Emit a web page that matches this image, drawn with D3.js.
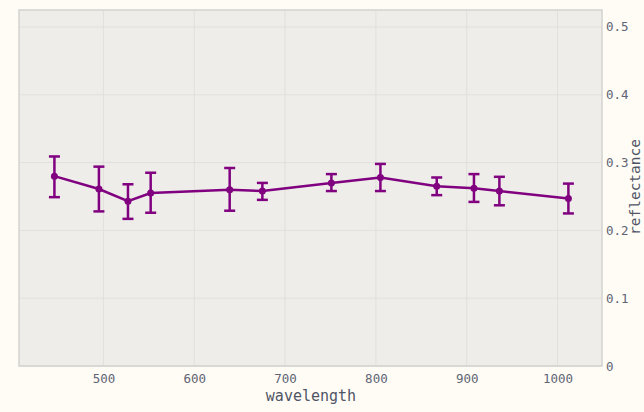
<!DOCTYPE html>
<html><head><meta charset="utf-8">
<script src="https://cdn.jsdelivr.net/npm/d3@7"></script>
<style>body{margin:0;background:#fffcf5;} svg{display:block;}</style>
</head><body>
<svg id="chart" width="644" height="412"></svg>
<script>
const wavelengths = [446, 495, 527, 552, 639, 675, 751, 805, 867, 908, 936, 1012];
const reflectance = [0.280, 0.261, 0.243, 0.255, 0.260, 0.258, 0.270, 0.278, 0.265, 0.262, 0.258, 0.247];
const errUpper = [0.309, 0.294, 0.268, 0.285, 0.292, 0.270, 0.283, 0.298, 0.278, 0.283, 0.279, 0.269];
const errLower = [0.249, 0.228, 0.217, 0.226, 0.229, 0.245, 0.258, 0.258, 0.252, 0.242, 0.237, 0.225];
const xTicks = [500, 600, 700, 800, 900, 1000];
const yTicks = [0, 0.1, 0.2, 0.3, 0.4, 0.5];
const xDomain = [407, 1049];
const yDomain = [0, 0.525];

const data = wavelengths.map((w, i) => ({w, r: reflectance[i], hi: errUpper[i], lo: errLower[i]}));
const svg = d3.select("#chart");
const m = {left: 19, right: 602, top: 10, bottom: 366};
const x = d3.scaleLinear().domain(xDomain).range([m.left, m.right]);
const y = d3.scaleLinear().domain(yDomain).range([m.bottom, m.top]);
const font = "'DejaVu Sans Mono', monospace";
const tickColor = "#5e6474";

svg.append("rect").attr("x", m.left).attr("y", m.top)
  .attr("width", m.right - m.left).attr("height", m.bottom - m.top)
  .attr("fill", "#eeede9");

// grid
svg.append("g").selectAll("line").data(xTicks).join("line")
  .attr("x1", d => x(d)).attr("x2", d => x(d)).attr("y1", m.top).attr("y2", m.bottom)
  .attr("stroke", "#e1e0dc").attr("stroke-width", 1);
svg.append("g").selectAll("line").data(yTicks).join("line")
  .attr("x1", m.left).attr("x2", m.right).attr("y1", d => y(d)).attr("y2", d => y(d))
  .attr("stroke", "#e1e0dc").attr("stroke-width", 1);

// axes
const xAxis = svg.append("g").attr("transform", `translate(0,${m.bottom})`)
  .call(d3.axisBottom(x).tickValues(xTicks).tickSize(0).tickPadding(8).tickFormat(d3.format("d")));
const yAxis = svg.append("g").attr("transform", `translate(${m.right},0)`)
  .call(d3.axisRight(y).tickValues(yTicks).tickSize(0).tickPadding(4).tickFormat(d => d === 0 ? "0" : d3.format(".1f")(d)));
[xAxis, yAxis].forEach(g => {
  g.select(".domain").remove();
  g.selectAll("text").attr("font-family", font).attr("font-size", 12.5).attr("fill", tickColor);
});
xAxis.selectAll("text").attr("dy", "0.71em");

// frame
svg.append("rect").attr("x", m.left).attr("y", m.top)
  .attr("width", m.right - m.left).attr("height", m.bottom - m.top)
  .attr("fill", "none").attr("stroke", "#d3d2cf").attr("stroke-width", 1.5);

// titles
svg.append("text").attr("x", (m.left + m.right) / 2 + 0.5).attr("y", 400.5)
  .attr("text-anchor", "middle").attr("font-family", font).attr("font-size", 15)
  .attr("fill", "#4f5566").text("wavelength");
svg.append("text").attr("transform", `translate(640,${(m.top + m.bottom) / 2 - 1}) rotate(-90)`)
  .attr("text-anchor", "middle").attr("font-family", font).attr("font-size", 14.5)
  .attr("fill", "#4f5566").text("reflectance");

const purple = "#800080";
// error bars
const eb = svg.append("g").attr("stroke", purple).attr("stroke-width", 2.5);
eb.selectAll("line.v").data(data).join("line").attr("class", "v")
  .attr("x1", d => x(d.w)).attr("x2", d => x(d.w)).attr("y1", d => y(d.hi)).attr("y2", d => y(d.lo));
eb.selectAll("line.t").data(data).join("line").attr("class", "t")
  .attr("x1", d => x(d.w) - 5.5).attr("x2", d => x(d.w) + 5.5).attr("y1", d => y(d.hi)).attr("y2", d => y(d.hi));
eb.selectAll("line.b").data(data).join("line").attr("class", "b")
  .attr("x1", d => x(d.w) - 5.5).attr("x2", d => x(d.w) + 5.5).attr("y1", d => y(d.lo)).attr("y2", d => y(d.lo));

// line
svg.append("path").datum(data)
  .attr("d", d3.line().x(d => x(d.w)).y(d => y(d.r)))
  .attr("fill", "none").attr("stroke", purple).attr("stroke-width", 2.5);
svg.append("g").selectAll("circle").data(data).join("circle")
  .attr("cx", d => x(d.w)).attr("cy", d => y(d.r)).attr("r", 3.5).attr("fill", purple);
</script>
</body></html>
